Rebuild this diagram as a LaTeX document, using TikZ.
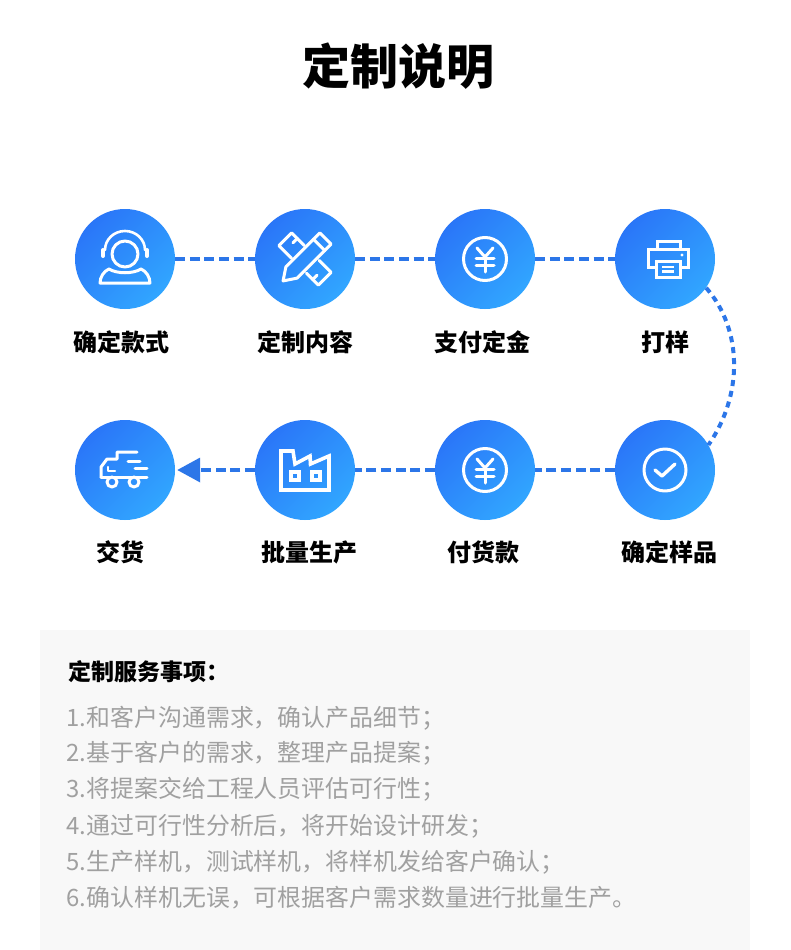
\documentclass[tikz,border=0pt]{standalone}
\usepackage{fontspec}
\newfontfamily\cjk{Noto Sans CJK SC}
\usetikzlibrary{arrows.meta}
\definecolor{gradA}{HTML}{2A76F8}
\definecolor{gradB}{HTML}{31A6FF}
\definecolor{dashblue}{HTML}{2C76E8}
\definecolor{panelbg}{HTML}{F8F8F8}
\definecolor{listgray}{HTML}{A0A0A0}
\tikzset{
  disc/.style={circle,minimum size=100pt,inner sep=0pt,top color=gradA,bottom color=gradB,shading angle=45},
  flow/.style={draw=dashblue,line width=3.6pt,dash pattern=on 10pt off 4.6pt},
  dotflow/.style={draw=dashblue,line width=4pt,dash pattern=on 6pt off 5pt},
  icon/.style={draw=white,line width=3pt,line join=round,line cap=round},
  steplabel/.style={font=\cjk\bfseries\fontsize{24}{28}\selectfont,text=black,inner sep=0pt},
  listline/.style={font=\cjk\fontsize{23.9}{28}\selectfont,text=listgray,anchor=west,inner sep=0pt},
}
\begin{document}
\begin{tikzpicture}[x=1pt,y=-1pt]
\useasboundingbox (0,0) rectangle (790,950);
\fill[white] (0,0) rectangle (790,950);
\fill[panelbg] (40,630) rectangle (750,950);

\node[font=\cjk\bfseries\fontsize{48}{54}\selectfont,inner sep=0pt] (title) at (398.5,66) {定制说明};

\node[disc] (c1) at (125,259) {};
\node[disc] (c2) at (305,259) {};
\node[disc] (c3) at (485,259) {};
\node[disc] (c4) at (665,259) {};
\node[disc] (c5) at (665,470) {};
\node[disc] (c6) at (485,470) {};
\node[disc] (c7) at (305,470) {};
\node[disc] (c8) at (125,470) {};

\draw[flow] (c1.east) -- (c2.west);
\draw[flow] (c2.east) -- (c3.west);
\draw[flow] (c3.east) -- (c4.west);
\draw[dotflow] (c4.-35) .. controls (743,330) and (743,395) .. (c5.30);
\draw[flow] (c5.west) -- (c6.east);
\draw[flow] (c6.west) -- (c7.east);
\draw[flow,-{Triangle[length=23pt,width=24pt]},shorten >=2pt] (c7.west) -- (c8.east);

% headset
\begin{scope}[shift={(c1.center)}]
  \draw[icon] (0,-5) circle (13);
  \draw[icon,line width=2.6pt] (-20,-9) arc[start angle=180,end angle=360,x radius=20,y radius=19];
  \draw[icon,line width=4pt] (-22,-9) -- (-22,-3);
  \draw[icon,line width=4pt] (22,-9) -- (22,-3);
  \draw[icon] (-16,10) .. controls (-8,15) and (8,15) .. (16,10) .. controls (21,12) and (25,18) .. (25,24) -- (-25,24) .. controls (-25,18) and (-21,12) .. (-16,10) -- cycle;
\end{scope}

% pencil and ruler
\begin{scope}[shift={(c2.center)},rotate=-45]
  \draw[icon] (-10,-9) -- (-28,-9) -- (-28,9) -- (-10,9);
  \draw[icon] (-20,-9) -- (-20,-3);
  \draw[icon] (11,-9) -- (28,-9) -- (28,9) -- (11,9);
  \draw[icon] (20,9) -- (20,3);
\end{scope}
\begin{scope}[shift={(c2.center)},rotate=45]
  \draw[icon] (-31,0) -- (-19,-8) -- (29,-8) -- (29,8) -- (-19,8) -- cycle;
  \draw[icon] (20,-8) -- (20,8);
\end{scope}

% yen coins
\foreach \c in {c3,c6}{
\begin{scope}[shift={(\c.center)}]
  \draw[icon] (0,0) circle (21.5);
  \draw[icon] (-8,-11) -- (0,-2) -- (8,-11);
  \draw[icon] (-9,-1) -- (9,-1);
  \draw[icon] (-9,6) -- (9,6);
  \draw[icon] (0,-2) -- (0,13);
\end{scope}}

% printer
\begin{scope}[shift={(c4.center)}]
  \draw[icon,line join=miter,line cap=butt] (-9,8) -- (-17,8) -- (-17,-10) -- (23,-10) -- (23,8) -- (15,8);
  \draw[icon,line join=miter,line cap=butt] (-8,-10) -- (-8,-18) -- (15,-18) -- (15,-10);
  \draw[icon,line join=miter] (-9,2) rectangle (15,18);
  \draw[icon,line width=2.2pt,line cap=butt] (-3,8) -- (9,8);
  \draw[icon,line width=2.2pt,line cap=butt] (-3,12.5) -- (9,12.5);
  \fill[white] (17,-4) circle (1.6);
\end{scope}

% check
\begin{scope}[shift={(c5.center)}]
  \draw[icon] (0,0) circle (21);
  \draw[icon,line width=3.4pt] (-10,0) -- (-3,6) -- (10,-6);
\end{scope}

% factory
\begin{scope}[shift={(c7.center)}]
  \draw[icon,line width=3.6pt,line join=miter] (-24,-19) -- (-12,-19) -- (-10,-6) -- (5,-14) -- (5.5,-6) -- (24,-14) -- (24,20) -- (-24,20) -- cycle;
  \draw[icon,line width=3.2pt,line join=miter] (-14,2) rectangle (-6,10);
  \draw[icon,line width=3.2pt,line join=miter] (7,2) rectangle (15,10);
\end{scope}

% truck
\begin{scope}[shift={(c8.center)}]
  \draw[icon] (-24,7) -- (-24,-3) -- (-18,-11) -- (-8,-11) -- (-8,-18) -- (12,-18);
  \draw[icon] (3,-9) -- (15,-9);
  \draw[icon] (10,-2) -- (22,-2);
  \draw[icon,line width=2.4pt] (-17,-3) -- (-17,1) -- (-10,1);
  \draw[icon] (-24,7) -- (22,7);
  \path[fill=gradA!60!gradB] (-13,12) circle (5);
  \path[fill=gradA!40!gradB] (9,12) circle (5);
  \draw[icon] (-13,12) circle (5);
  \draw[icon] (9,12) circle (5);
\end{scope}

\node[steplabel] (l1) at (121,342) {确定款式};
\node[steplabel] (l2) at (305,342) {定制内容};
\node[steplabel] (l3) at (482,342) {支付定金};
\node[steplabel] (l4) at (665,342) {打样};
\node[steplabel] (l5) at (669,552) {确定样品};
\node[steplabel] (l6) at (483,552) {付货款};
\node[steplabel] (l7) at (309,552) {批量生产};
\node[steplabel] (l8) at (120,552) {交货};

\node[font=\cjk\bfseries\fontsize{23}{26}\selectfont,anchor=west,inner sep=0pt] (head) at (68,672) {定制服务事项：};
\node[listline] (t1) at (66.5,718) {1.和客户沟通需求，确认产品细节；};
\node[listline] (t2) at (66.5,753) {2.基于客户的需求，整理产品提案；};
\node[listline] (t3) at (66.5,789) {3.将提案交给工程人员评估可行性；};
\node[listline] (t4) at (66.5,826) {4.通过可行性分析后，将开始设计研发；};
\node[listline] (t5) at (66.5,862) {5.生产样机，测试样机，将样机发给客户确认；};
\node[listline] (t6) at (66.5,898) {6.确认样机无误，可根据客户需求数量进行批量生产。};
\end{tikzpicture}
\end{document}
